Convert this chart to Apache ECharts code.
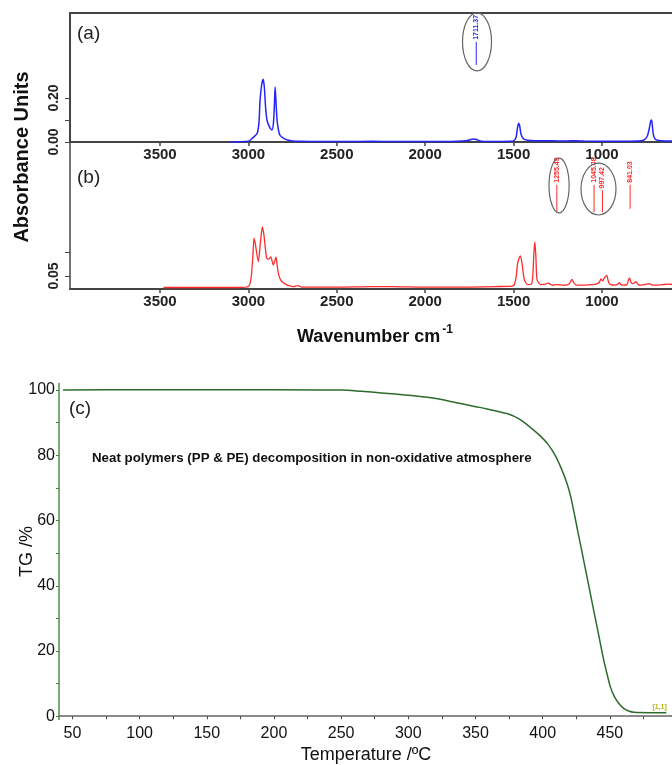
<!DOCTYPE html>
<html>
<head>
<meta charset="utf-8">
<script src="https://cdn.jsdelivr.net/npm/echarts@6/dist/echarts.min.js"></script>
<style>
  html, body { margin: 0; padding: 0; background: #fff; }
  #chart { width: 672px; height: 765px; }
</style>
</head>
<body>
<div id="chart"></div>
<script>
// (a) FTIR spectrum, blue: [wavenumber, absorbance]
var specA = [
  [3110, 0.000], [3000, 0.003], [2974, 0.020], [2950, 0.040], [2940, 0.09], [2934, 0.19],
  [2925, 0.26], [2917, 0.285], [2910, 0.25], [2903, 0.16], [2895, 0.10], [2878, 0.064],
  [2866, 0.055], [2858, 0.09], [2853, 0.17], [2849, 0.25], [2845, 0.20], [2838, 0.10],
  [2829, 0.05], [2821, 0.03], [2800, 0.016], [2783, 0.010], [2750, 0.005], [2708, 0.003],
  [2600, 0.002], [2450, 0.002], [2300, 0.003], [2200, 0.002], [2000, 0.002], [1850, 0.002],
  [1790, 0.004], [1755, 0.008], [1730, 0.014], [1710, 0.011], [1690, 0.005], [1650, 0.002],
  [1520, 0.003], [1495, 0.008], [1485, 0.025], [1478, 0.065], [1472, 0.085], [1466, 0.075],
  [1458, 0.035], [1445, 0.015], [1420, 0.008], [1380, 0.006], [1300, 0.006], [1250, 0.005],
  [1200, 0.005], [1150, 0.006], [1100, 0.004], [1000, 0.003], [900, 0.003], [800, 0.004],
  [765, 0.008], [745, 0.025], [733, 0.06], [725, 0.095], [720, 0.10], [716, 0.08],
  [710, 0.035], [700, 0.014], [680, 0.007], [640, 0.005], [600, 0.005]
];

// (b) FTIR spectrum, red: [wavenumber, absorbance]
var specB = [
  [3480, 0.026], [3200, 0.026], [3050, 0.026], [3000, 0.028], [2985, 0.045], [2975, 0.09],
  [2968, 0.129], [2960, 0.115], [2944, 0.080], [2932, 0.12], [2921, 0.152], [2912, 0.135],
  [2897, 0.087], [2885, 0.085], [2874, 0.090], [2865, 0.080], [2859, 0.073], [2850, 0.082],
  [2844, 0.089], [2838, 0.075], [2831, 0.056], [2818, 0.042], [2803, 0.036], [2780, 0.031],
  [2746, 0.028], [2720, 0.030], [2700, 0.027], [2500, 0.027], [2300, 0.028], [2200, 0.028],
  [2000, 0.027], [1800, 0.027], [1600, 0.028], [1510, 0.029], [1496, 0.032], [1485, 0.050],
  [1477, 0.077], [1462, 0.092], [1452, 0.075], [1439, 0.042], [1420, 0.032], [1400, 0.033],
  [1392, 0.048], [1385, 0.100], [1380, 0.121], [1374, 0.090], [1367, 0.042], [1345, 0.032],
  [1320, 0.033], [1307, 0.035], [1280, 0.031], [1260, 0.032], [1210, 0.031], [1185, 0.034],
  [1170, 0.043], [1160, 0.036], [1147, 0.031], [1109, 0.031], [1060, 0.032], [1034, 0.033],
  [1015, 0.037], [1006, 0.044], [996, 0.040], [987, 0.046], [974, 0.051], [962, 0.036],
  [950, 0.032], [930, 0.031], [910, 0.033], [902, 0.036], [893, 0.032], [883, 0.031],
  [860, 0.032], [845, 0.046], [835, 0.036], [826, 0.034], [808, 0.038], [795, 0.032],
  [780, 0.031], [755, 0.032], [733, 0.034], [715, 0.031], [695, 0.031], [660, 0.032],
  [620, 0.033], [600, 0.032]
];

// peak labels: [wavenumber, line bottom, line top]
var marksA = [[1711.37, 0.35, 0.455]];
var labelsA = ['1711.37'];
var marksB = [[1255.49, 0.183, 0.240], [1045.08, 0.183, 0.240], [997.42, 0.183, 0.228], [841.03, 0.190, 0.240]];
var labelsB = ['1255.49', '1045.08', '997.42', '841.03'];
// ellipses round labels: [centre wavenumber, centre value, half width, half height]
var ringsA = [[1707, 0.455, 82, 0.132]];
var ringsB = [[1243, 0.2385, 57, 0.057], [1020, 0.231, 99, 0.054]];

// (c) TG curve: [temperature, TG %]
var tgData = [
  [43, 100.0], [100, 100.1], [150, 100.1], [200, 100.1], [250, 100.0], [265, 99.6],
  [280, 99.1], [300, 98.4], [317, 97.6], [335, 96.2], [354, 94.6], [374, 92.7],
  [383, 91.0], [391, 88.5], [397, 86.4], [403.7, 83.5], [409, 80.2], [413.6, 76.2],
  [418, 71.5], [421, 67.1], [426, 57.0], [431, 46.8], [436, 36.5], [441, 26.3],
  [445.5, 17.1], [448, 12.8], [450.4, 9.0], [453, 6.3], [456, 4.3], [460, 2.5],
  [464, 1.6], [468, 1.2], [480, 1.1], [492, 1.1]
];

var wnTicks = [1000, 1500, 2000, 2500, 3000, 3500];
var tempLabels = [50, 100, 150, 200, 250, 300, 350, 400, 450];
var tempTicks = [50, 75, 100, 125, 150, 175, 200, 225, 250, 275, 300, 325, 350, 375, 400, 425, 450, 475];
var tgLabels = [0, 20, 40, 60, 80, 100];
var tgTicks = [0, 10, 20, 30, 40, 50, 60, 70, 80, 90, 100];

var FONT = '"Liberation Sans", Arial, sans-serif';

function markRender(color, labels) {
  return function (params, api) {
    var x = api.value(0);
    var p0 = api.coord([x, api.value(1)]);
    var p1 = api.coord([x, api.value(2)]);
    return {
      type: 'group',
      children: [
        { type: 'line', shape: { x1: p0[0], y1: p0[1], x2: p1[0], y2: p1[1] }, style: { stroke: color, lineWidth: 1 } },
        { type: 'text', x: p1[0], y: p1[1] - 2, rotation: Math.PI / 2,
          style: { text: labels[params.dataIndex], fill: color, font: 'bold 7px ' + FONT, align: 'left', verticalAlign: 'middle' } }
      ]
    };
  };
}

function ringRender(params, api) {
  var c = api.coord([api.value(0), api.value(1)]);
  var s = api.size([api.value(2), api.value(3)]);
  return {
    type: 'ellipse',
    shape: { cx: c[0], cy: c[1], rx: Math.abs(s[0]), ry: Math.abs(s[1]) },
    style: { stroke: '#666', fill: null, lineWidth: 1.2 }
  };
}

function wnAxis(idx, extra) {
  var ax = {
    type: 'value', gridIndex: idx, min: 559, max: 4009, inverse: true,
    axisLine: { lineStyle: { color: '#444', width: 2 } },
    axisTick: { inside: false, length: 4, customValues: wnTicks, lineStyle: { color: '#444', width: 1.5 } },
    axisLabel: { customValues: wnTicks, color: '#222', fontSize: 15, fontWeight: 'bold', fontFamily: FONT, margin: 5,
      formatter: function (v) { return String(v); } },
    splitLine: { show: false }
  };
  for (var k in extra) ax[k] = extra[k];
  return ax;
}

function absAxis(idx, min, max, labels, ticks) {
  return {
    type: 'value', gridIndex: idx, min: min, max: max,
    axisLine: { show: true, lineStyle: { color: '#444', width: 1.5 } },
    axisTick: { show: true, length: 5, customValues: ticks, lineStyle: { color: '#444' } },
    axisLabel: { customValues: labels, rotate: 90, color: '#222', fontSize: 14, fontWeight: 'bold', fontFamily: FONT,
      margin: 9, formatter: function (v) { return v.toFixed(2); } },
    splitLine: { show: false }
  };
}

var chart = echarts.init(document.getElementById('chart'));
chart.setOption({
  backgroundColor: '#fff',
  animation: false,
  grid: [
    { left: 70, top: 13, width: 610, height: 129, show: true, borderColor: '#444', borderWidth: 2, outerBoundsMode: 'none' },
    { left: 70, top: 142, width: 610, height: 147, outerBoundsMode: 'none' },
    { left: 59, top: 383.5, width: 614, height: 336, outerBoundsMode: 'none' }
  ],
  xAxis: [
    wnAxis(0, {}),
    wnAxis(1, {
      name: '{b|Wavenumber cm}{s|-1}', nameLocation: 'middle', nameGap: 35,
      nameTextStyle: { rich: {
        b: { fontSize: 18, fontWeight: 'bold', color: '#111', fontFamily: FONT, verticalAlign: 'bottom' },
        s: { fontSize: 12, fontWeight: 'bold', color: '#111', fontFamily: FONT, verticalAlign: 'top', padding: [0, 0, 10, 2] }
      } }
    }),
    {
      type: 'value', gridIndex: 2, min: 40, max: 497,
      name: 'Temperature /ºC', nameLocation: 'middle', nameGap: 27,
      nameTextStyle: { fontSize: 18, color: '#111', fontFamily: FONT },
      axisLine: { lineStyle: { color: '#666', width: 1.5 } },
      axisTick: { inside: false, length: 3, customValues: tempTicks, lineStyle: { color: '#444' } },
      axisLabel: { customValues: tempLabels, color: '#111', fontSize: 16, fontFamily: FONT, margin: 6 },
      splitLine: { show: false }
    }
  ],
  yAxis: [
    absAxis(0, 0, 0.586, [0, 0.2], [0, 0.1, 0.2]),
    absAxis(1, 0.0229, 0.329, [0.05], [0.05, 0.10]),
    {
      type: 'value', gridIndex: 2, min: -1, max: 102,
      name: 'TG /%', nameLocation: 'middle', nameRotate: 90, nameGap: 23, nameMoveOverlap: false,
      nameTextStyle: { fontSize: 18, color: '#111', fontFamily: FONT },
      axisLine: { show: true, lineStyle: { color: '#4f8f4f', width: 1.5 } },
      axisTick: { show: true, length: 3, customValues: tgTicks, lineStyle: { color: '#3a8a3a' } },
      axisLabel: { customValues: tgLabels, color: '#111', fontSize: 16, fontFamily: FONT, margin: 4 },
      splitLine: { show: false }
    }
  ],
  series: [
    { type: 'line', xAxisIndex: 0, yAxisIndex: 0, data: specA, showSymbol: false, smooth: 0.25,
      lineStyle: { color: '#2424ff', width: 1.5 } },
    { type: 'line', xAxisIndex: 1, yAxisIndex: 1, data: specB, showSymbol: false, smooth: 0.25,
      lineStyle: { color: '#ff2a2a', width: 1.3 } },
    { type: 'custom', xAxisIndex: 0, yAxisIndex: 0, data: marksA, renderItem: markRender('#2424ff', labelsA),
      encode: { x: 0, y: [1, 2] }, clip: false },
    { type: 'custom', xAxisIndex: 1, yAxisIndex: 1, data: marksB, renderItem: markRender('#ff2a2a', labelsB),
      encode: { x: 0, y: [1, 2] }, clip: false },
    { type: 'custom', xAxisIndex: 0, yAxisIndex: 0, data: ringsA, renderItem: ringRender, encode: { x: 0, y: 1 }, clip: false },
    { type: 'custom', xAxisIndex: 1, yAxisIndex: 1, data: ringsB, renderItem: ringRender, encode: { x: 0, y: 1 }, clip: false },
    { type: 'line', xAxisIndex: 2, yAxisIndex: 2, data: tgData, showSymbol: false, smooth: 0.3,
      lineStyle: { color: '#2d6b2d', width: 1.5 },
      markPoint: {
        symbol: 'circle', symbolSize: 1, itemStyle: { color: 'transparent' },
        label: { show: true, formatter: '[1,1]', fontSize: 7, fontWeight: 'bold', color: '#b8b800', fontFamily: FONT, offset: [-4, -6] },
        data: [{ coord: [490, 1.1] }]
      } }
  ],
  graphic: [
    { type: 'text', left: 77, top: 24, style: { text: '(a)', font: '19px ' + FONT, fill: '#222' } },
    { type: 'text', left: 77, top: 168, style: { text: '(b)', font: '19px ' + FONT, fill: '#222' } },
    { type: 'text', left: 69, top: 399, style: { text: '(c)', font: '19px ' + FONT, fill: '#222' } },
    { type: 'text', x: 22, y: 157, rotation: Math.PI / 2,
      style: { text: 'Absorbance Units', font: 'bold 20px ' + FONT, fill: '#111', align: 'center', verticalAlign: 'middle' } },
    { type: 'text', left: 92, top: 452,
      style: { text: 'Neat polymers (PP & PE) decomposition in non-oxidative atmosphere', font: 'bold 13.3px ' + FONT, fill: '#111' } }
  ]
});
</script>
</body>
</html>
